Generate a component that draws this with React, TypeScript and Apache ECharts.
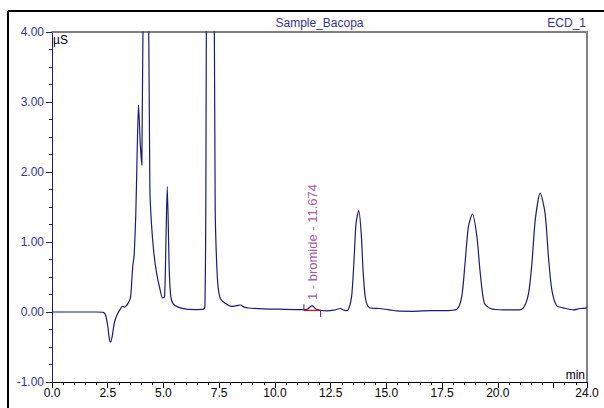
import React, { useEffect, useRef } from "react";
import * as echarts from "echarts";

// Chromatogram trace: retention time (min) and signal (µS)
const times: number[] = [
  0.0, 1.0, 2.0, 2.3, 2.4, 2.5, 2.58, 2.63, 2.7, 2.8, 2.92, 3.04, 3.16, 3.26, 3.34, 3.42, 3.52, 3.58, 3.63, 3.68,
  3.76, 3.82, 3.88, 3.96, 4.03, 4.12, 4.22, 4.3, 4.39, 4.46, 4.57, 4.69, 4.84, 4.96, 5.05, 5.11, 5.17, 5.26, 5.33,
  5.43, 5.66, 6.03, 6.48, 6.8, 6.86, 6.9, 6.95, 7.1, 7.25, 7.32, 7.38, 7.45, 7.56, 7.75, 8.05, 8.28, 8.46, 8.62,
  8.8, 9.48, 10.22, 11.27, 11.45, 11.67, 11.85, 12.32, 12.7, 12.92, 13.15, 13.29, 13.44, 13.55, 13.64, 13.76,
  13.87, 13.96, 14.07, 14.24, 14.71, 15.16, 15.46, 16.21, 16.96, 17.56, 18.16, 18.38, 18.53, 18.68, 18.86, 19.06,
  19.21, 19.39, 19.66, 20.25, 20.85, 21.15, 21.38, 21.53, 21.68, 21.9, 22.12, 22.27, 22.42, 22.64, 22.94, 23.39,
  23.69, 24.0,
];
const signal: number[] = [
  0.0, 0.0, 0.0, -0.005, -0.04, -0.2, -0.4, -0.43, -0.35, -0.15, -0.04, 0.03, 0.08, 0.07, 0.09, 0.13, 0.2, 0.45,
  0.68, 0.79, 1.41, 2.27, 2.96, 2.4, 2.1, 6.0, 8.0, 6.0, 1.79, 1.27, 0.84, 0.56, 0.33, 0.2, 0.22, 1.0, 1.79, 0.6,
  0.22, 0.12, 0.07, 0.04, 0.035, 0.04, 0.1, 1.5, 6.0, 9.0, 6.0, 1.5, 0.75, 0.36, 0.185, 0.13, 0.08, 0.09, 0.1, 0.07,
  0.057, 0.045, 0.04, 0.035, 0.04, 0.09, 0.04, 0.015, 0.03, 0.05, 0.02, 0.03, 0.22, 0.75, 1.27, 1.45, 1.13, 0.56,
  0.175, 0.06, 0.05, 0.03, 0.015, 0.01, 0.02, 0.02, 0.04, 0.22, 0.7, 1.22, 1.4, 1.08, 0.56, 0.13, 0.05, 0.03, 0.03,
  0.06, 0.27, 0.7, 1.32, 1.7, 1.41, 0.79, 0.32, 0.09, 0.06, 0.03, 0.05, 0.06,
];

// Peak annotation
const peakName = "1 - bromide - 11.674";
const peakTime = 11.674;
const peakLabelBase = 0.17;
const integStart = 11.3;
const integEnd = 12.05;
const integBaseline = 0.022;
const startMarkTop = 0.11;
const endMarkBottom = -0.07;

// Axis ticks
const xTickLabels: number[] = [0, 2.5, 5, 7.5, 10, 12.5, 15, 17.5, 20, 24];
const yTickLabels: number[] = [-1, 0, 1, 2, 3, 4];

export default function App() {
  const ref = useRef<HTMLDivElement>(null);
  useEffect(() => {
    if (!ref.current) return;
    const chart = echarts.init(ref.current, null, { renderer: "svg" });
    const blue = "#333399";
    const navy = "#1a1a80";
    const font = "Liberation Sans, Arial, sans-serif";
    const trace = times.map((t, i) => [t, signal[i]]);
    chart.setOption({
      animation: false,
      backgroundColor: "#ffffff",
      grid: { left: 52, top: 32, right: 17, bottom: 26, containLabel: false },
      xAxis: [
        {
          type: "value",
          min: 0,
          max: 24,
          interval: 2.5,
          position: "bottom",
          axisLine: { show: true, onZero: false, lineStyle: { color: "#000000", width: 1 } },
          axisTick: { show: true, length: 6, lineStyle: { color: "#000000" } },
          axisLabel: {
            show: true,
            margin: 5,
            color: "#000000",
            fontSize: 12,
            fontFamily: font,
            formatter: (v: number) =>
              xTickLabels.some((x) => Math.abs(x - v) < 1e-6) ? v.toFixed(1) : "",
          },
          splitLine: { show: false },
        },
        {
          type: "value",
          min: 0,
          max: 24,
          interval: 0.5,
          position: "bottom",
          axisLine: { show: false, onZero: false },
          axisTick: { show: true, length: 3, lineStyle: { color: "#000000" } },
          axisLabel: { show: false },
          splitLine: { show: false },
        },
        {
          type: "value",
          min: 0,
          max: 24,
          position: "top",
          axisLine: { show: true, onZero: false, lineStyle: { color: "#808080", width: 2 } },
          axisTick: { show: false },
          axisLabel: { show: false },
          splitLine: { show: false },
        },
      ],
      yAxis: [
        {
          type: "value",
          min: -1,
          max: 4,
          interval: 1,
          position: "left",
          axisLine: { show: true, onZero: false, lineStyle: { color: navy, width: 1 } },
          axisTick: { show: true, length: 6, lineStyle: { color: navy } },
          minorTick: { show: true, splitNumber: 4, length: 3, lineStyle: { color: navy } },
          axisLabel: {
            show: true,
            margin: 8,
            color: blue,
            fontSize: 12,
            fontFamily: font,
            formatter: (v: number) =>
              yTickLabels.some((y) => Math.abs(y - v) < 1e-6) ? v.toFixed(2) : "",
          },
          splitLine: { show: false },
          minorSplitLine: { show: false },
        },
        {
          type: "value",
          min: -1,
          max: 4,
          position: "right",
          axisLine: { show: true, onZero: false, lineStyle: { color: "#808080", width: 2 } },
          axisTick: { show: false },
          axisLabel: { show: false },
          splitLine: { show: false },
        },
      ],
      series: [
        {
          type: "line",
          name: "ECD_1",
          data: trace,
          xAxisIndex: 0,
          yAxisIndex: 0,
          clip: true,
          showSymbol: false,
          symbol: "none",
          smooth: 0.25,
          lineStyle: { color: navy, width: 1.2 },
          z: 3,
        },
        {
          type: "line",
          data: [
            [integStart, integBaseline],
            [integEnd, integBaseline],
          ],
          xAxisIndex: 0,
          yAxisIndex: 0,
          symbol: "none",
          lineStyle: { color: "#ff0000", width: 1.2 },
          z: 4,
        },
        {
          type: "line",
          data: [
            [integStart, integBaseline],
            [integStart, startMarkTop],
          ],
          xAxisIndex: 0,
          yAxisIndex: 0,
          symbol: "none",
          lineStyle: { color: "#2222cc", width: 1 },
          z: 4,
        },
        {
          type: "line",
          data: [
            [integEnd, integBaseline],
            [integEnd, endMarkBottom],
          ],
          xAxisIndex: 0,
          yAxisIndex: 0,
          symbol: "none",
          lineStyle: { color: "#2222cc", width: 1 },
          z: 4,
        },
        {
          type: "scatter",
          data: [[peakTime, peakLabelBase]],
          xAxisIndex: 0,
          yAxisIndex: 0,
          symbolSize: 0,
          silent: true,
          label: {
            show: true,
            position: "inside",
            align: "left",
            verticalAlign: "middle",
            rotate: 90,
            formatter: peakName,
            color: "#8c2a8c",
            fontSize: 13,
            fontFamily: font,
          },
          z: 5,
        },
      ],
      graphic: [
        {
          type: "line",
          shape: { x1: 8, y1: 11, x2: 604, y2: 11 },
          style: { stroke: "#000000", lineWidth: 2 },
        },
        {
          type: "line",
          shape: { x1: 8, y1: 11, x2: 8, y2: 408 },
          style: { stroke: "#000000", lineWidth: 2 },
        },
        {
          type: "text",
          x: 319.5,
          y: 29,
          style: {
            text: "Sample_Bacopa",
            fill: blue,
            font: `12px ${font}`,
            textAlign: "center",
            textVerticalAlign: "bottom",
          },
        },
        {
          type: "text",
          x: 586,
          y: 29,
          style: {
            text: "ECD_1",
            fill: blue,
            font: `12px ${font}`,
            textAlign: "right",
            textVerticalAlign: "bottom",
          },
        },
        {
          type: "text",
          x: 53,
          y: 34,
          style: {
            text: "µS",
            fill: "#000000",
            font: `12px ${font}`,
            textAlign: "left",
            textVerticalAlign: "top",
          },
        },
        {
          type: "text",
          x: 585,
          y: 381,
          style: {
            text: "min",
            fill: "#000000",
            font: `12px ${font}`,
            textAlign: "right",
            textVerticalAlign: "bottom",
          },
        },
      ],
    });
    return () => chart.dispose();
  }, []);
  return (
    <div
      ref={ref}
      style={{ position: "fixed", left: 0, top: 0, width: 604, height: 408, background: "#fff" }}
    />
  );
}
